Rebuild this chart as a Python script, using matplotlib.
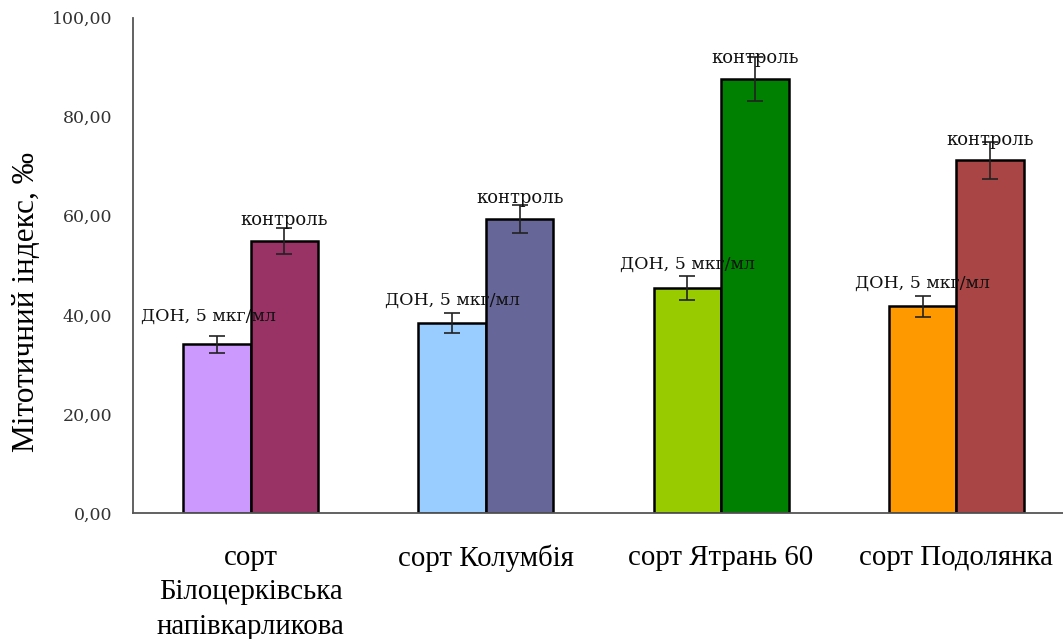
import matplotlib.pyplot as plt
import numpy as np

# mitotic index per variety: DON-treated vs control
varieties = ['сорт\nБілоцерківська\nнапівкарликова', 'сорт Колумбія',
             'сорт Ятрань 60', 'сорт Подолянка']
don_values = [34.1, 38.4, 45.5, 41.7]
control_values = [54.9, 59.4, 87.6, 71.2]
don_err = [1.7, 2.0, 2.4, 2.2]
control_err = [2.7, 2.8, 4.5, 3.7]
don_label = 'ДОН, 5 мкг/мл'
control_label = 'контроль'
yticks = [0, 20, 40, 60, 80, 100]

don_colors = ['#CC99FF', '#99CCFF', '#99CC00', '#FF9900']
control_colors = ['#993366', '#666699', '#008000', '#AA4545']

fig = plt.figure(figsize=(10.63, 6.39), dpi=100)
ax = fig.add_axes([133 / 1063, 1 - 513 / 639, 941 / 1063, (513 - 17.7) / 639])

x = np.arange(len(varieties))
w = 0.287
err_kw = dict(ecolor='#222222', elinewidth=1.2, capsize=6, capthick=1.2)
b1 = ax.bar(x - w / 2, don_values, w, color=don_colors, edgecolor='black',
            linewidth=1.8, yerr=don_err, error_kw=err_kw, zorder=2)
b2 = ax.bar(x + w / 2, control_values, w, color=control_colors, edgecolor='black',
            linewidth=1.8, yerr=control_err, error_kw=err_kw, zorder=2)

lbl_font = dict(family='DejaVu Serif', color='#111111')
for i, rect in enumerate(b1):
    # first label sits a bit higher and to the left
    dx, dy = (-6, 20) if i == 0 else (0, 16.5)
    ax.annotate(don_label, (rect.get_x() + rect.get_width() / 2, rect.get_height()),
                xytext=(dx, dy), textcoords='offset points',
                ha='center', va='center', zorder=3, size=12.5, **lbl_font)
for rect in b2:
    ax.annotate(control_label, (rect.get_x() + rect.get_width() / 2, rect.get_height()),
                xytext=(0, 15), textcoords='offset points',
                ha='center', va='center', zorder=3, size=13, **lbl_font)

ax.set_xlim(-0.5, 3.5)
ax.set_ylim(0, 100)
ax.set_yticks(yticks)
ax.set_yticklabels([('%.2f' % v).replace('.', ',') for v in yticks],
                   family='DejaVu Serif', fontsize=12.5, color='#333333')
ax.set_xticks(x)
ax.set_xticklabels(varieties, family='Liberation Serif', fontsize=20.8,
                   linespacing=1.42)
ax.tick_params(axis='y', length=0, pad=15)
ax.tick_params(axis='x', length=0, pad=23)

for s in ['top', 'right']:
    ax.spines[s].set_visible(False)
for s in ['left', 'bottom']:
    ax.spines[s].set_color('#555555')
    ax.spines[s].set_linewidth(1.3)

fig.text(27 / 1063, 1 - 302 / 639, 'Мітотичний індекс, ‰', rotation=90,
         ha='center', va='center', family='Liberation Serif', fontsize=22.5)

fig.savefig('out.png', dpi=100)
